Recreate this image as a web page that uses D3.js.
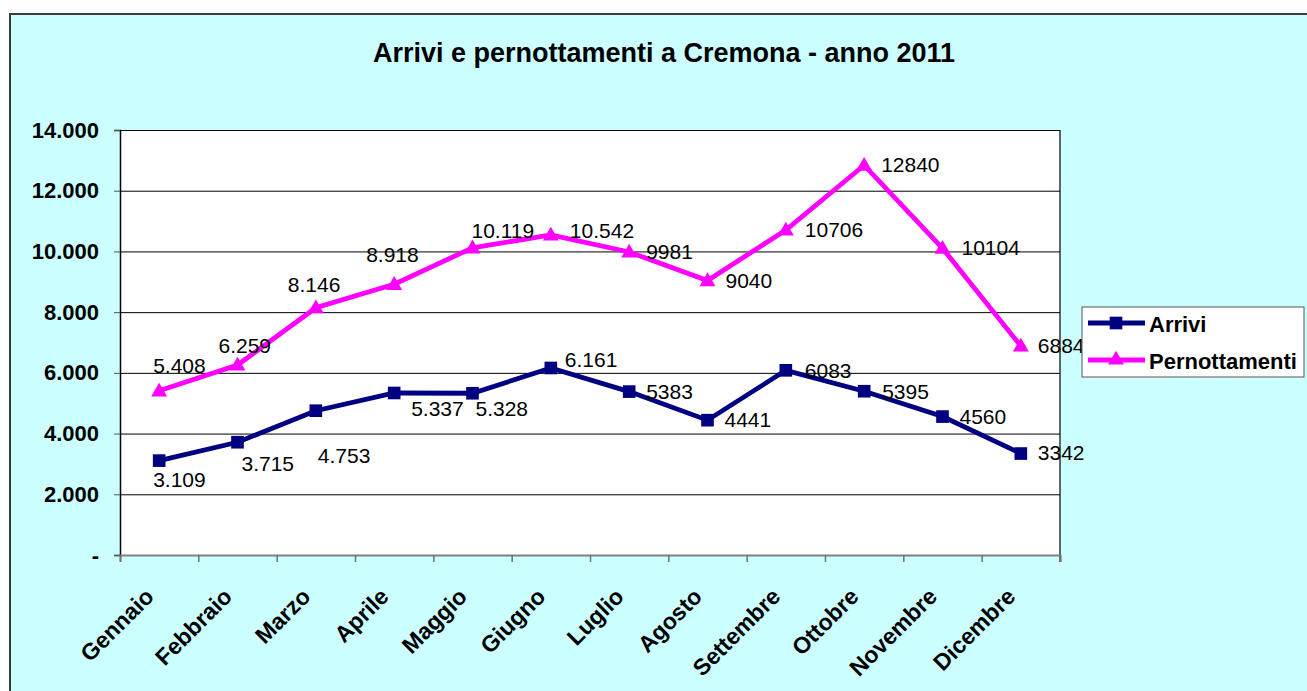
<!DOCTYPE html>
<html>
<head>
<meta charset="utf-8">
<script src="https://cdn.jsdelivr.net/npm/d3@7"></script>
<style>
  html, body { margin: 0; padding: 0; background: #ffffff; }
  svg { display: block; }
  text { font-family: "Liberation Sans", Arial, sans-serif; }
</style>
</head>
<body>
<svg id="chart" width="1307" height="691"></svg>
<script>
// ---- data ----
const months = ["Gennaio","Febbraio","Marzo","Aprile","Maggio","Giugno","Luglio","Agosto","Settembre","Ottobre","Novembre","Dicembre"];
const arrivi = [3109, 3715, 4753, 5337, 5328, 6161, 5383, 4441, 6083, 5395, 4560, 3342];
const pernottamenti = [5408, 6259, 8146, 8918, 10119, 10542, 9981, 9040, 10706, 12840, 10104, 6884];
const arriviLabels = ["3.109","3.715","4.753","5.337","5.328","6.161","5383","4441","6083","5395","4560","3342"];
const pernottamentiLabels = ["5.408","6.259","8.146","8.918","10.119","10.542","9981","9040","10706","12840","10104","6884"];
const yTicks = [0, 2000, 4000, 6000, 8000, 10000, 12000, 14000];
const yTickLabels = ["-","2.000","4.000","6.000","8.000","10.000","12.000","14.000"];
const seriesNames = ["Arrivi", "Pernottamenti"];
const title = "Arrivi e pernottamenti a Cremona - anno 2011";

// label offsets (layout only): [dx, dy] from the point, text baseline
const arriviLabelOffsets = [[-6,26],[4,29],[2,52],[17,23],[3,23],[14,-1],[17,7],[17,7],[19,8],[18,8],[17,7],[17,6]];
const pernLabelOffsets = [[-6,-18],[-19,-12],[-28,-16],[-28,-22],[-1,-10],[19,3],[17,7],[18,7],[19,7],[17,7],[19,7],[17,7]];

// ---- layout ----
const W = 1307, H = 691;
const plot = {left: 120, right: 1060, top: 130, bottom: 555};
const colA = "#000080", colP = "#FF00FF";

const svg = d3.select("#chart");

// outer chart area
svg.append("rect").attr("x", 10).attr("y", 14).attr("width", W + 20).attr("height", H + 20)
  .attr("fill", "#CCFFFF").attr("stroke", "#3a3a3a").attr("stroke-width", 2);

// title
svg.append("text").attr("x", 664).attr("y", 62).attr("text-anchor", "middle")
  .attr("font-size", 27).attr("font-weight", "bold").attr("fill", "#000").text(title);

// plot area
svg.append("rect").attr("x", plot.left).attr("y", plot.top)
  .attr("width", plot.right - plot.left).attr("height", plot.bottom - plot.top)
  .attr("fill", "#ffffff");

const x = d3.scaleBand().domain(months).range([plot.left, plot.right]).padding(0);
const cx = m => x(m) + x.bandwidth() / 2;
const y = d3.scaleLinear().domain([0, 14000]).range([plot.bottom, plot.top]);

// gridlines
const grid = svg.append("g").attr("transform", `translate(${plot.left},0)`)
  .call(d3.axisLeft(y).tickValues(yTicks.filter(v => v > 0)).tickSize(-(plot.right - plot.left)).tickFormat(""));
grid.select(".domain").remove();
grid.selectAll(".tick line").attr("stroke", "#000").attr("stroke-width", 1);

// right border
svg.append("line").attr("x1", plot.right).attr("x2", plot.right).attr("y1", plot.top).attr("y2", plot.bottom + 7)
  .attr("stroke", "#000").attr("stroke-width", 1.2);

// y axis
const yAxis = svg.append("g").attr("transform", `translate(${plot.left},0)`)
  .call(d3.axisLeft(y).tickValues(yTicks).tickSize(6).tickPadding(15)
    .tickFormat((d, i) => yTickLabels[i]));
yAxis.select(".domain").attr("stroke", "#000").attr("stroke-width", 1.5);
yAxis.selectAll(".tick line").attr("stroke", "#555");
yAxis.selectAll(".tick text").attr("font-size", 22).attr("font-weight", "bold")
  .attr("fill", "#000").attr("font-family", "'Liberation Sans', Arial, sans-serif");

// x axis (tick marks at category boundaries)
const xb = d3.scaleLinear().domain([0, months.length]).range([plot.left, plot.right]);
const xAxis = svg.append("g").attr("transform", `translate(0,${plot.bottom})`)
  .call(d3.axisBottom(xb).tickValues(d3.range(0, months.length + 1)).tickSize(7).tickFormat(""));
xAxis.select(".domain").attr("stroke", "#808080").attr("stroke-width", 2);
xAxis.selectAll(".tick line").attr("stroke", "#707070").attr("stroke-width", 1.5);

// x labels
svg.append("g").selectAll("text").data(months).join("text")
  .attr("transform", d => `translate(${cx(d) - 4},${598}) rotate(-45)`)
  .attr("text-anchor", "end").attr("font-size", 23).attr("font-weight", "bold")
  .attr("fill", "#000").text(d => d);

// lines
const lineGen = d3.line().x((d, i) => cx(months[i])).y(d => y(d));
svg.append("path").datum(pernottamenti).attr("d", lineGen)
  .attr("fill", "none").attr("stroke", colP).attr("stroke-width", 4.8).attr("stroke-linejoin", "miter");
svg.append("path").datum(arrivi).attr("d", lineGen)
  .attr("fill", "none").attr("stroke", colA).attr("stroke-width", 4.8).attr("stroke-linejoin", "miter");

const tri = d3.symbol().type(d3.symbolTriangle).size(110);
const sq = d3.symbol().type(d3.symbolSquare).size(160);

svg.append("g").selectAll("path").data(pernottamenti).join("path")
  .attr("transform", (d, i) => `translate(${cx(months[i])},${y(d) + 1})`)
  .attr("d", tri).attr("fill", colP);
svg.append("g").selectAll("path").data(arrivi).join("path")
  .attr("transform", (d, i) => `translate(${cx(months[i])},${y(d)})`)
  .attr("d", sq).attr("fill", colA);

// data labels
svg.append("g").selectAll("text").data(pernottamenti).join("text")
  .attr("x", (d, i) => cx(months[i]) + pernLabelOffsets[i][0])
  .attr("y", (d, i) => y(d) + pernLabelOffsets[i][1])
  .attr("font-size", 21).attr("fill", "#000").text((d, i) => pernottamentiLabels[i]);
svg.append("g").selectAll("text").data(arrivi).join("text")
  .attr("x", (d, i) => cx(months[i]) + arriviLabelOffsets[i][0])
  .attr("y", (d, i) => y(d) + arriviLabelOffsets[i][1])
  .attr("font-size", 21).attr("fill", "#000").text((d, i) => arriviLabels[i]);

// legend
const lg = svg.append("g");
lg.append("rect").attr("x", 1082).attr("y", 307).attr("width", 222).attr("height", 70)
  .attr("fill", "#fff").attr("stroke", "#555").attr("stroke-width", 1);
const legendRows = [
  {name: seriesNames[0], color: colA, sym: sq, yy: 323},
  {name: seriesNames[1], color: colP, sym: tri, yy: 360}
];
legendRows.forEach(r => {
  lg.append("line").attr("x1", 1088).attr("x2", 1145).attr("y1", r.yy).attr("y2", r.yy)
    .attr("stroke", r.color).attr("stroke-width", 4.8);
  lg.append("path").attr("transform", `translate(1116,${r.yy})`).attr("d", r.sym).attr("fill", r.color);
  lg.append("text").attr("x", 1149).attr("y", r.yy + 8.5).attr("font-size", 22)
    .attr("font-weight", "bold").attr("fill", "#000").text(r.name);
});
</script>
</body>
</html>
